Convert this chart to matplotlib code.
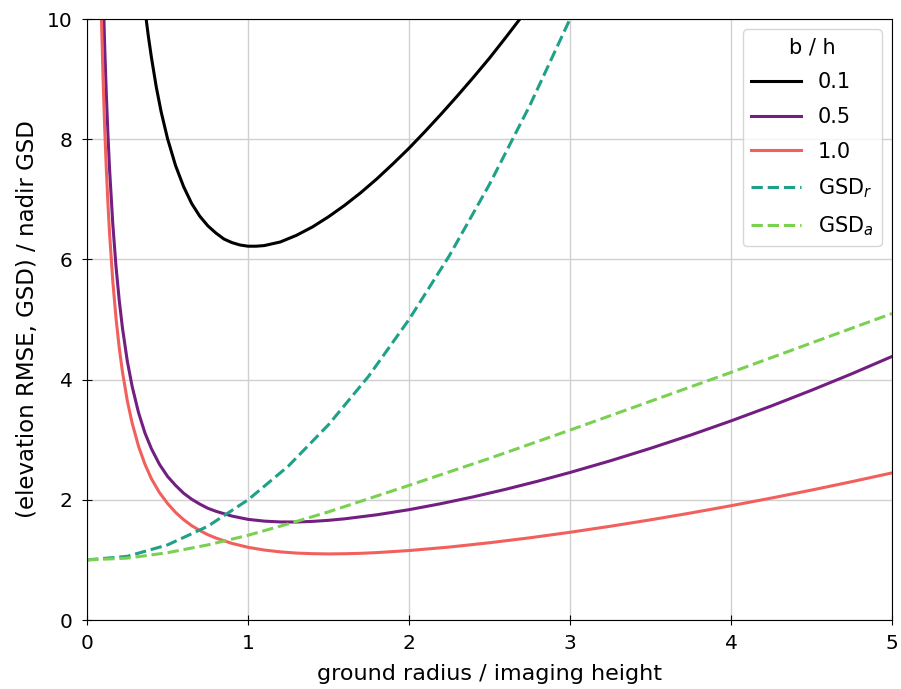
import matplotlib
matplotlib.use('Agg')
import matplotlib.pyplot as plt

# values (ground radius / imaging height -> ratio)
x_01 = [0.34, 0.36, 0.38, 0.40, 0.43, 0.46, 0.50, 0.55, 0.60, 0.65, 0.70, 0.75, 0.80, 0.85, 0.90, 0.95,
        1.00, 1.05, 1.10, 1.20, 1.30, 1.40, 1.50, 1.60, 1.70, 1.80, 1.90, 2.00, 2.10, 2.20, 2.30, 2.40,
        2.50, 2.60, 2.70, 2.75]
y_01 = [10.63, 10.15, 9.73, 9.36, 8.87, 8.46, 8.01, 7.56, 7.21, 6.93, 6.72, 6.56, 6.44, 6.34, 6.28, 6.24,
        6.22, 6.22, 6.23, 6.29, 6.40, 6.54, 6.71, 6.90, 7.11, 7.34, 7.59, 7.85, 8.13, 8.42, 8.72, 9.03,
        9.35, 9.69, 10.04, 10.21]

x_05 = [0.09, 0.10, 0.11, 0.12, 0.13, 0.14, 0.16, 0.18, 0.20, 0.22, 0.25, 0.28, 0.32, 0.36, 0.40, 0.45,
        0.50, 0.55, 0.60, 0.65, 0.70, 0.75, 0.80, 0.90, 1.00, 1.10, 1.20, 1.30, 1.40, 1.50, 1.60, 1.80,
        2.00, 2.20, 2.40, 2.60, 2.80, 3.00, 3.25, 3.50, 3.75, 4.00, 4.25, 4.50, 4.75, 5.00]
y_05 = [11.59, 10.45, 9.51, 8.73, 8.07, 7.50, 6.59, 5.88, 5.32, 4.86, 4.31, 3.89, 3.45, 3.11, 2.85, 2.59,
        2.39, 2.24, 2.11, 2.01, 1.93, 1.86, 1.81, 1.73, 1.675, 1.646, 1.632, 1.631, 1.641, 1.659, 1.684, 1.751,
        1.836, 1.937, 2.05, 2.175, 2.31, 2.455, 2.649, 2.857, 3.078, 3.313, 3.561, 3.823, 4.097, 4.385]

x_10 = [0.08, 0.09, 0.10, 0.11, 0.12, 0.13, 0.14, 0.16, 0.18, 0.20, 0.22, 0.25, 0.28, 0.32, 0.36, 0.40,
        0.45, 0.50, 0.55, 0.60, 0.65, 0.70, 0.75, 0.80, 0.90, 1.00, 1.10, 1.20, 1.30, 1.40, 1.50, 1.60,
        1.70, 1.80, 2.00, 2.25, 2.50, 2.75, 3.00, 3.25, 3.50, 3.75, 4.00, 4.25, 4.50, 4.75, 5.00]
y_10 = [11.20, 9.96, 8.97, 8.16, 7.49, 6.92, 6.43, 5.64, 5.02, 4.53, 4.13, 3.65, 3.28, 2.89, 2.59, 2.35,
        2.12, 1.94, 1.79, 1.67, 1.57, 1.49, 1.42, 1.365, 1.275, 1.21, 1.165, 1.134, 1.114, 1.104, 1.10, 1.103,
        1.11, 1.122, 1.156, 1.214, 1.286, 1.368, 1.46, 1.56, 1.667, 1.781, 1.902, 2.029, 2.162, 2.302, 2.448]

x_gsd_r = [0, 0.25, 0.5, 0.75, 1.0, 1.25, 1.5, 1.75, 2.0, 2.25, 2.5, 2.75, 3.0]
y_gsd_r = [1.0, 1.06, 1.25, 1.56, 2.0, 2.56, 3.25, 4.06, 5.0, 6.06, 7.25, 8.56, 10.0]

x_gsd_a = [0, 0.25, 0.5, 0.75, 1.0, 1.25, 1.5, 2.0, 2.5, 3.0, 3.5, 4.0, 4.5, 5.0]
y_gsd_a = [1.0, 1.03, 1.12, 1.25, 1.41, 1.60, 1.80, 2.24, 2.69, 3.16, 3.64, 4.12, 4.61, 5.10]

plt.rcParams['font.size'] = 15

fig = plt.figure(figsize=(9.01, 6.89), dpi=100)
ax = fig.add_axes([0.0966, 0.1001, 0.8934, 0.8723])

ax.plot(x_01, y_01, color='black', lw=2.2, label='0.1')
ax.plot(x_05, y_05, color='#721f81', lw=2.2, label='0.5')
ax.plot(x_10, y_10, color='#f1605d', lw=2.2, label='1.0')
ax.plot(x_gsd_r, y_gsd_r, color='#1fa187', lw=2.2, ls='--', label=r'GSD$_r$')
ax.plot(x_gsd_a, y_gsd_a, color='#7ad151', lw=2.2, ls='--', label=r'GSD$_a$')

ax.set_xlim(0, 5)
ax.set_ylim(0, 10)
ax.tick_params(direction='inout', length=7.5, pad=6.5, labelsize=14.5)
ax.grid(color='#d0d0d0', lw=1)
ax.set_axisbelow(True)
ax.set_xlabel('ground radius / imaging height', fontsize=16, labelpad=8)
ax.set_ylabel('(elevation RMSE, GSD) / nadir GSD', fontsize=16.5, labelpad=6)
ax.legend(title='b / h', loc='upper right', fontsize=15, title_fontsize=15,
          labelspacing=0.7, handlelength=2.4)

fig.savefig('out.png', dpi=100)
